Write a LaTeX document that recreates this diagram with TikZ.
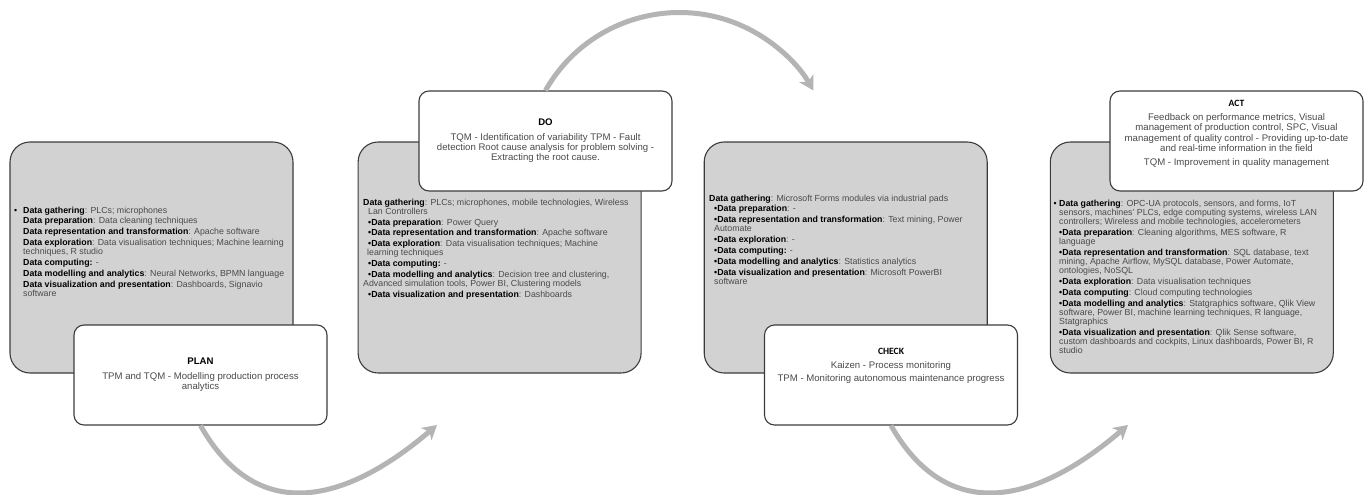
\documentclass[tikz,border=0pt]{standalone}
\usepackage{fontspec}
\setmainfont{Liberation Sans}
\newfontfamily\titlefont{Carlito}
\usepackage{xcolor}
\usetikzlibrary{arrows.meta, positioning, calc}

\definecolor{boxgray}{HTML}{D2D2D2}
\definecolor{edgegray}{HTML}{3C3C3C}
\definecolor{txtgray}{HTML}{4A4A4A}
\definecolor{arrowgray}{HTML}{B4B4B4}

\newcommand{\lbl}[1]{\textbf{\color{black}#1}}
\newcommand{\pstep}{\\[1.6pt]}

\begin{document}
\begin{tikzpicture}[x=1pt, y=-1pt,
        graybox/.style={draw=edgegray, line width=1.1pt, rounded corners=20pt, fill=boxgray, minimum width=283pt, minimum height=231pt, inner sep=0pt},
        whitebox/.style={draw=edgegray, line width=1.1pt, rounded corners=10pt, fill=white, minimum width=253pt, minimum height=100pt, inner sep=0pt},
        graytext/.style={anchor=north west, align=left, inner sep=0pt, text=txtgray, font=\fontsize{8.8}{9.2}\selectfont},
        boxtext/.style={align=center, inner sep=0pt, text=txtgray, font=\fontsize{9.6}{10.4}\selectfont},
        pdcaarrow/.style={-{Stealth[length=14pt, width=16pt, inset=4pt]}, line width=5pt, draw=arrowgray}
    ]
        \path[use as bounding box, fill=white] (0,0) rectangle (1368,495);

        % Cajas grises
        \node[graybox] (plangray) at (151.5,257.5) {};
        \node[graybox, right=64pt of plangray] (dogray) {};
        \node[graybox, right=62pt of dogray] (checkgray) {};
        \node[graybox, right=62pt of checkgray] (actgray) {};

        % Textos de las cajas grises
        \node[graytext] (plantxt) at (23,206.5) {%
            \llap{\color{black}•\hspace{6pt}}\lbl{Data gathering}: PLCs; microphones\pstep
            \lbl{Data preparation}: Data cleaning techniques\pstep
            \lbl{Data representation and transformation}: Apache software\pstep
            \lbl{Data exploration}: Data visualisation techniques; Machine learning\\
            techniques, R studio\pstep
            \lbl{Data computing:} -\pstep
            \lbl{Data modelling and analytics}: Neural Networks, BPMN language\pstep
            \lbl{Data visualization and presentation}: Dashboards, Signavio\\
            software};
        \node[graytext] (dotxt) at (363,198.5) {%
            \lbl{Data gathering}: PLCs; microphones, mobile technologies, Wireless\\
            \hspace*{5pt}Lan Controllers\pstep
            \hspace*{5pt}\lbl{•Data preparation}: Power Query\pstep
            \hspace*{5pt}\lbl{•Data representation and transformation}: Apache software\pstep
            \hspace*{5pt}\lbl{•Data exploration}: Data visualisation techniques; Machine\\
            \hspace*{4pt}learning techniques\pstep
            \hspace*{5pt}\lbl{•Data computing:} -\pstep
            \hspace*{5pt}\lbl{•Data modelling and analytics}: Decision tree and clustering,\\
            Advanced simulation tools, Power BI, Clustering models\pstep
            \hspace*{5pt}\lbl{•Data visualization and presentation}: Dashboards};
        \node[graytext] (checktxt) at (709,194.5) {%
            \lbl{Data gathering}: Microsoft Forms modules via industrial pads\pstep
            \hspace*{5pt}\lbl{•Data preparation}: -\pstep
            \hspace*{5pt}\lbl{•Data representation and transformation}: Text mining, Power\\
            \hspace*{5pt}Automate\pstep
            \hspace*{5pt}\lbl{•Data exploration}: -\pstep
            \hspace*{5pt}\lbl{•Data computing:} -\pstep
            \hspace*{5pt}\lbl{•Data modelling and analytics}: Statistics analytics\pstep
            \hspace*{5pt}\lbl{•Data visualization and presentation}: Microsoft PowerBI\\
            \hspace*{5pt}software};
        \node[graytext] (acttxt) at (1059,199.5) {%
            \llap{\color{black}•\ }\lbl{Data gathering}: OPC-UA protocols, sensors, and forms, IoT\\
            sensors, machines' PLCs, edge computing systems, wireless LAN\\
            controllers; Wireless and mobile technologies, accelerometers\pstep
            \lbl{•Data preparation}: Cleaning algorithms, MES software, R\\
            language\pstep
            \lbl{•Data representation and transformation}: SQL database, text\\
            mining, Apache Airflow, MySQL database, Power Automate,\\
            ontologies, NoSQL\pstep
            \lbl{•Data exploration}: Data visualisation techniques\pstep
            \lbl{•Data computing}: Cloud computing technologies\pstep
            \lbl{•Data modelling and analytics}: Statgraphics software, Qlik View\\
            software, Power BI, machine learning techniques, R language,\\
            Statgraphics\pstep
            \lbl{•Data visualization and presentation}: Qlik Sense software,\\
            custom dashboards and cockpits, Linux dashboards, Power BI, R\\
            studio};

        % Cajas blancas (fases PDCA)
        \node[whitebox] (plan) at (200.5,375) {};
        \node[whitebox] (do) at (545.5,141) {};
        \node[whitebox] (check) at (891,375) {};
        \node[whitebox] (act) at (1236.5,141) {};

        \node[boxtext] (plantitle) at (plan.center) {\lbl{PLAN}\\[4pt]
            TPM and TQM - Modelling production process\\analytics};
        \node[boxtext] (dotitle) at (do.center) {\lbl{DO}\\[4pt]
            TQM - Identification of variability TPM - Fault\\
            detection Root cause analysis for problem solving -\\
            Extracting the root cause.};
        \node[boxtext] (checktitle) at ([yshift=9.5pt]check.center) {{\color{black}\titlefont\bfseries CHECK}\\[3.5pt]
            Kaizen - Process monitoring\\[2.5pt]
            TPM - Monitoring autonomous maintenance progress};
        \node[boxtext] (acttitle) at ([yshift=7pt]act.center) {{\color{black}\titlefont\bfseries ACT}\\[3.5pt]
            Feedback on performance metrics, Visual\\
            management of production control, SPC, Visual\\
            management of quality control - Providing up-to-date\\
            and real-time information in the field\\[3.5pt]
            TQM - Improvement in quality management};

        % Flechas del ciclo
        \coordinate (planend) at (437,425);
        \coordinate (doend) at (813,91);
        \coordinate (checkend) at (1128,425);
        \draw[pdcaarrow] (plan.south) .. controls (255,522) and (341,507) .. (planend);
        \draw[pdcaarrow] (do.north) arc[start angle=-150.4, end angle=-29.6, radius=154];
        \draw[pdcaarrow] (check.south) .. controls (946,522) and (1032,507) .. (checkend);

    \end{tikzpicture}
\end{document}
